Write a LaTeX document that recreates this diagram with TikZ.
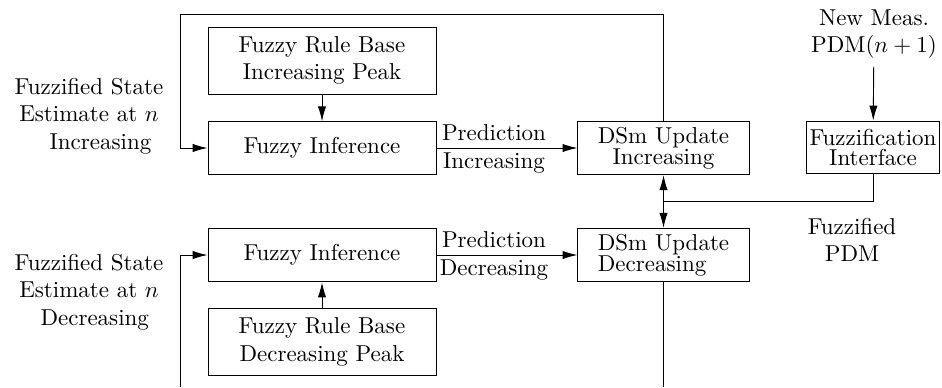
\documentclass[tikz,border=0pt]{standalone}
\usepackage{tikz}
\usetikzlibrary{arrows.meta,positioning}

\begin{document}
\begin{tikzpicture}[x=0.4348pt,y=-0.4348pt,
  block/.style={draw=black,minimum width=99.1pt,inner ysep=2pt,align=center},
  upd/.style={draw=black,minimum width=74.4pt,minimum height=23.2pt,inner ysep=2pt,align=center},
  lbl/.style={align=center},
  flow/.style={-{Latex[length=6.5pt,width=3.6pt]}}]
\useasboundingbox (0,0) rectangle (942,387);
\node[block,minimum height=29.1pt] (ruleInc) at (322,60.5) {Fuzzy Rule Base\\Increasing Peak};
\node[block,minimum height=22.8pt] (infInc) at (322,148) {Fuzzy Inference};
\node[block,minimum height=23.4pt] (infDec) at (322,255) {Fuzzy Inference};
\node[block,minimum height=28.8pt] (ruleDec) at (322,342) {Fuzzy Rule Base\\Decreasing Peak};
\node[upd] (dsmInc) at (663.5,148) {DSm Update\\[-3pt]Increasing};
\node[upd,align=left] (dsmDec) at (663.5,255) {DSm Update\\[-3pt]Decreasing};
\node[draw=black,minimum height=23pt,inner ysep=2pt,inner xsep=1.5pt,align=center] (fuzz) at (873,147.5) {Fuzzification\\[-3pt]Interface};
\node[lbl] (stInc) at (89,116) {Fuzzified State\\Estimate at $n$\\\hspace*{1em}Increasing};
\node[lbl] (stDec) at (89,292) {Fuzzified State\\Estimate at $n$\\\hspace*{0.5em}Decreasing};
\node[lbl] (predInc) at (494,149) {Prediction\\Increasing};
\node[lbl] (predDec) at (494,256) {Prediction\\Decreasing};
\node[lbl] (newMeas) at (874,34) {New Meas.\\PDM$(n+1)$};
\node[lbl] (fuzPdm) at (852,240) {Fuzzified\\PDM};
\coordinate (topL) at (180,14);
\coordinate (botL) at (180,387);
\coordinate (botR) at (663.5,387);
\coordinate (junc) at (663.5,201);
\draw[flow] (ruleInc) -- (infInc);
\draw[flow] (ruleDec) -- (infDec);
\draw[flow] (infInc) -- (dsmInc);
\draw[flow] (infDec) -- (dsmDec);
\draw[flow] (newMeas) -- (fuzz);
\draw[flow] (dsmInc.north) |- (topL) |- (infInc.west);
\draw[flow] (botL) |- (infDec.west);
\draw (dsmDec.south) -- (botR);
\draw (fuzz.south) |- (junc);
\draw[flow] (junc) -- (dsmInc.south);
\draw[flow] (junc) -- (dsmDec.north);
\end{tikzpicture}
\end{document}
